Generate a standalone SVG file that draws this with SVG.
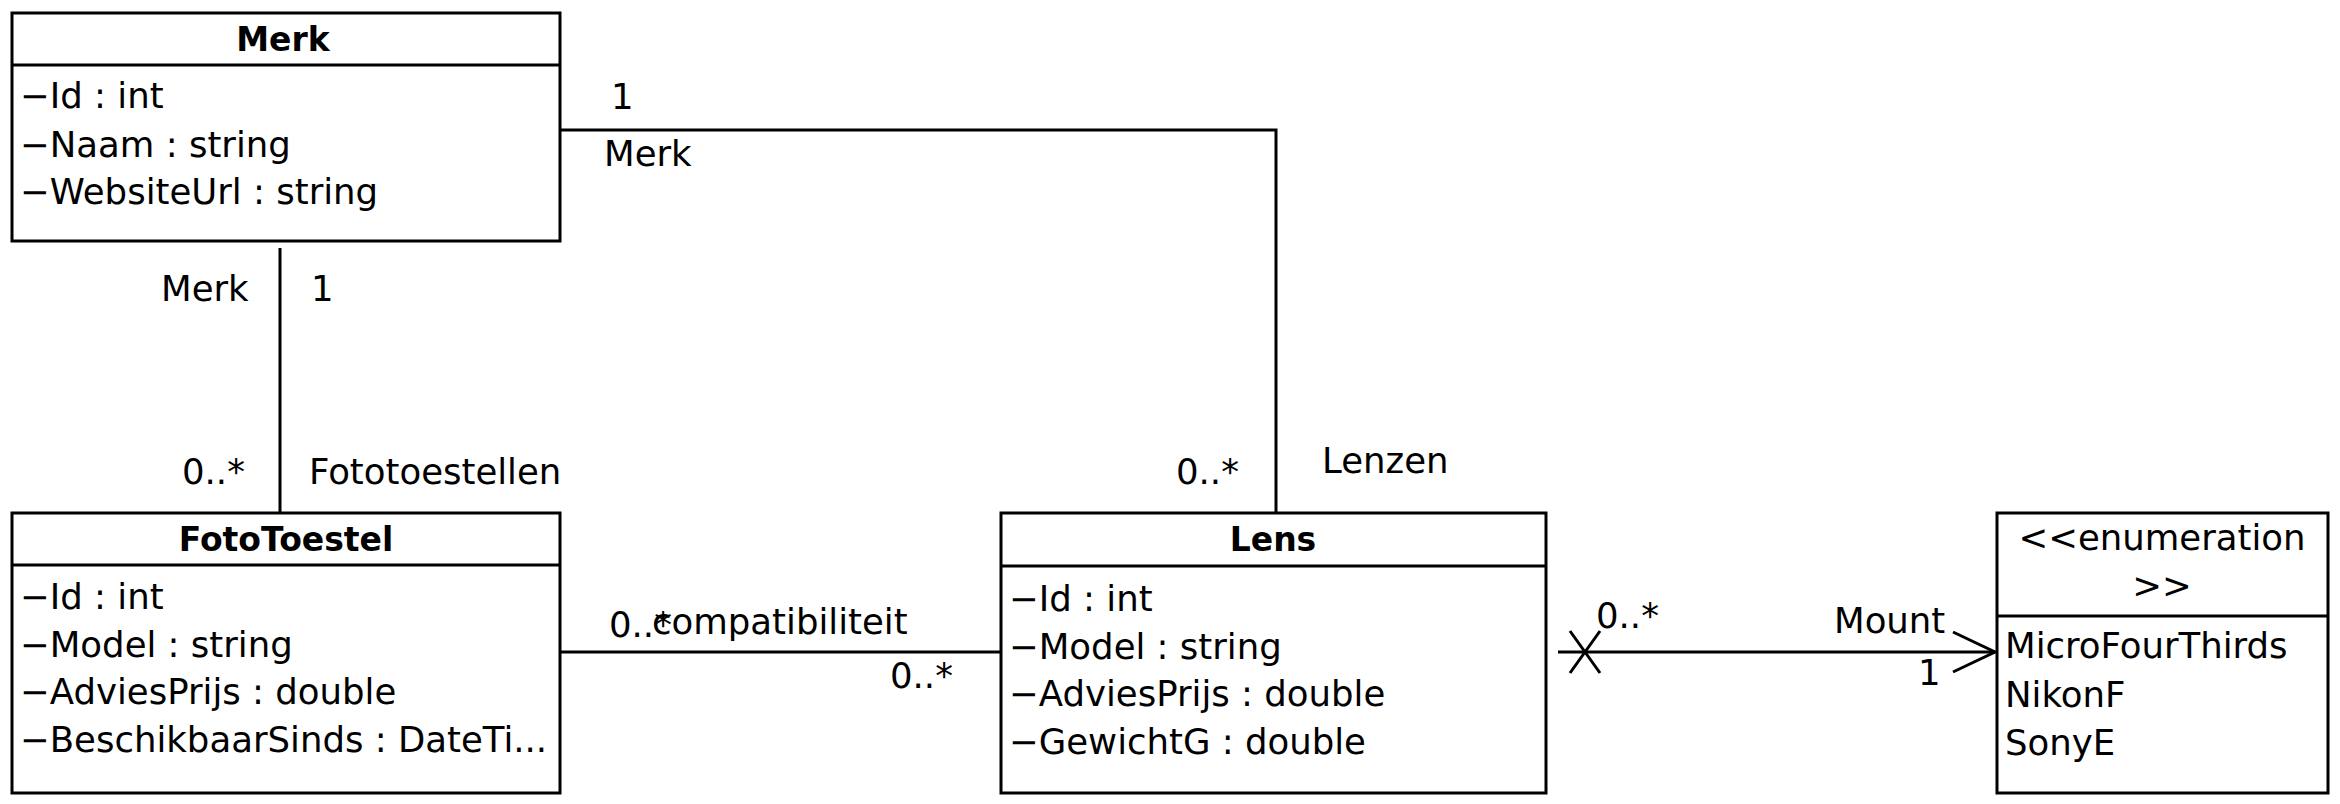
<svg xmlns="http://www.w3.org/2000/svg" width="2340" height="804" viewBox="0 0 2340 804">
<style>
.box{fill:#fff;stroke:#000;stroke-width:3}
.div{stroke:#000;stroke-width:3}
.t{font-family:"DejaVu Sans","Liberation Sans",sans-serif;font-size:35.5px;fill:#000}
.h{font-family:"DejaVu Sans","Liberation Sans",sans-serif;font-size:33px;font-weight:bold;fill:#000;text-anchor:middle}
.m{text-anchor:middle}
.c{fill:none;stroke:#000;stroke-width:3}
</style>
<rect width="2340" height="804" fill="#fff"/>
<g id="connectors">
<path class="c" d="M280,248 V513"/>
<path class="c" d="M560,130 H1276 V513"/>
<path class="c" d="M560,652 H1001"/>
<path class="c" d="M1558,652 H1995"/>
<path class="c" d="M1570,631 L1600,673 M1600,631 L1570,673"/>
<path class="c" d="M1953,632 L1995,652 L1953,672"/>
<text class="t" x="161" y="301">Merk</text>
<text class="t" x="311" y="301">1</text>
<text class="t" x="182" y="484">0..*</text>
<text class="t" x="309" y="484">Fototoestellen</text>
<text class="t" x="611" y="109">1</text>
<text class="t" x="604" y="166">Merk</text>
<text class="t" x="1176" y="484">0..*</text>
<text class="t" x="1322" y="473">Lenzen</text>
<text class="t" x="609" y="637">0..*</text>
<text class="t" x="652" y="634">compatibiliteit</text>
<text class="t" x="890" y="688">0..*</text>
<text class="t" x="1596" y="628">0..*</text>
<text class="t" x="1834" y="633">Mount</text>
<text class="t" x="1918" y="685">1</text>
</g>
<g id="Merk">
<rect class="box" x="12" y="13" width="548" height="228"/>
<line class="div" x1="12" y1="65" x2="560" y2="65"/>
<text class="h" x="283" y="51">Merk</text>
<text class="t" x="20" y="108">−Id : int</text>
<text class="t" x="20" y="157">−Naam : string</text>
<text class="t" x="20" y="204">−WebsiteUrl : string</text>
</g>
<g id="FotoToestel">
<rect class="box" x="12" y="513" width="548" height="280"/>
<line class="div" x1="12" y1="565" x2="560" y2="565"/>
<text class="h" x="286" y="551">FotoToestel</text>
<text class="t" x="20" y="609">−Id : int</text>
<text class="t" x="20" y="657">−Model : string</text>
<text class="t" x="20" y="704">−AdviesPrijs : double</text>
<text class="t" x="20" y="752">−BeschikbaarSinds : DateTi...</text>
</g>
<g id="Lens">
<rect class="box" x="1001" y="513" width="545" height="280"/>
<line class="div" x1="1001" y1="566" x2="1546" y2="566"/>
<text class="h" x="1273" y="551">Lens</text>
<text class="t" x="1009" y="611">−Id : int</text>
<text class="t" x="1009" y="659">−Model : string</text>
<text class="t" x="1009" y="706">−AdviesPrijs : double</text>
<text class="t" x="1009" y="754">−GewichtG : double</text>
</g>
<g id="Mount">
<rect class="box" x="1997" y="513" width="331" height="280"/>
<line class="div" x1="1997" y1="616" x2="2328" y2="616"/>
<text class="t m" x="2162" y="550">&lt;&lt;enumeration</text>
<text class="t m" x="2162" y="598">&gt;&gt;</text>
<text class="t" x="2005" y="658">MicroFourThirds</text>
<text class="t" x="2005" y="707">NikonF</text>
<text class="t" x="2005" y="755">SonyE</text>
</g>
</svg>
